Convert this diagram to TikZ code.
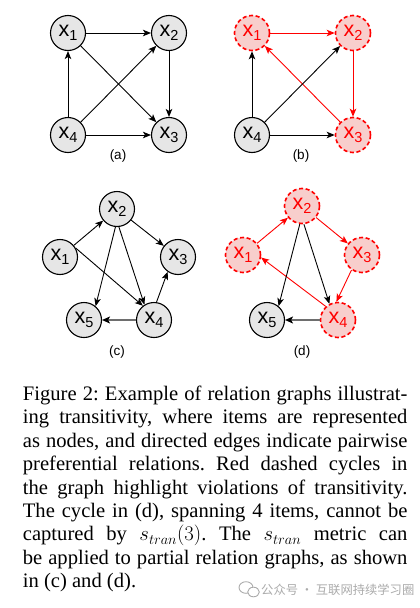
\documentclass[tikz,border=0pt]{standalone}
\usepackage{fontspec}
\setmainfont{Liberation Serif}
\newfontfamily\nodefont{Liberation Sans}
\newfontfamily\cjkfont{Noto Sans CJK SC}
\usetikzlibrary{arrows.meta}
\definecolor{nodegray}{HTML}{E6E6E6}
\definecolor{nodepink}{HTML}{F8CECC}
\definecolor{edgegray}{HTML}{6E6E6E}
\definecolor{wmgray}{HTML}{ABABAB}
\newcommand\xlab[1]{x\raisebox{-4.5pt}{\fontsize{14.5}{14.5}\selectfont #1}}
\tikzset{
  gnode/.style={circle, draw=black, line width=1.1pt, fill=nodegray, minimum size=35pt, inner sep=0pt,
    font=\nodefont\fontsize{21.5}{21.5}\selectfont},
  rnode/.style={circle, draw=red, line width=1.6pt, dash pattern=on 4pt off 2.6pt, fill=nodepink,
    minimum size=35pt, inner sep=0pt, text=red, font=\nodefont\fontsize{21.5}{21.5}\selectfont},
  edge/.style={draw=black, line width=0.9pt, -{Stealth[length=8pt,width=6.5pt,inset=2pt]}},
  redge/.style={draw=red, line width=0.9pt, -{Stealth[length=8pt,width=6.5pt,inset=2pt]}},
  gedge/.style={draw=edgegray, line width=1.6pt, -{Stealth[length=8pt,width=7pt,inset=2pt,color=black]}},
  sublabel/.style={font=\nodefont\fontsize{13.5}{13.5}\selectfont, inner sep=0pt},
  capline/.style={anchor=base west, inner sep=0pt, font=\fontsize{20.6}{23.4}\selectfont\frenchspacing},
  wm/.style={anchor=base west, inner sep=0pt, text=wmgray, font=\cjkfont\fontsize{12.3}{12.3}\selectfont}
}
\begin{document}
\begin{tikzpicture}[x=1pt,y=-1pt]
\useasboundingbox[fill=white] (0,0) rectangle (420,608);
% (a)
\node[gnode] (a1) at (68,33) {\xlab{1}};
\node[gnode] (a2) at (169,33) {\xlab{2}};
\node[gnode] (a3) at (169,135) {\xlab{3}};
\node[gnode] (a4) at (68,135) {\xlab{4}};
\draw[edge] (a1) -- (a2);
\draw[edge] (a1) -- (a3);
\draw[edge] (a2) -- (a3);
\draw[edge] (a4) -- (a1);
\draw[edge] (a4) -- (a2);
\draw[edge] (a4) -- (a3);
\node[sublabel] (la) at (118,156) {(a)};
% (b)
\node[rnode] (b1) at (252,33) {\xlab{1}};
\node[rnode] (b2) at (353,33) {\xlab{2}};
\node[rnode] (b3) at (353,135) {\xlab{3}};
\node[gnode] (b4) at (252,135) {\xlab{4}};
\draw[redge] (b1) -- (b2);
\draw[redge] (b2) -- (b3);
\draw[redge] (b3) -- (b1);
\draw[edge] (b4) -- (b1);
\draw[edge] (b4) -- (b2);
\draw[edge] (b4) -- (b3);
\node[sublabel] (lb) at (301,156) {(b)};
% (c)
\node[gnode] (c1) at (60,257) {\xlab{1}};
\node[gnode] (c2) at (117,209) {\xlab{2}};
\node[gnode] (c3) at (178,257) {\xlab{3}};
\node[gnode] (c4) at (154,320) {\xlab{4}};
\node[gnode] (c5) at (84,320) {\xlab{5}};
\draw[edge] (c1) -- (c2);
\draw[edge] (c1.30) -- (c4.128);
\draw[edge] (c2) -- (c3);
\draw[edge] (c2.-95) -- (c5.50);
\draw[edge] (c2.-84) -- (c4.122);
\draw[edge] (c4.82) -- (c3.235);
\draw[gedge] (c4) -- (c5);
\node[sublabel] (lc) at (117,352) {(c)};
% (d)
\node[rnode] (d1) at (243,255) {\xlab{1}};
\node[rnode] (d2) at (302,206) {\xlab{2}};
\node[rnode] (d3) at (362,255) {\xlab{3}};
\node[rnode] (d4) at (338,320) {\xlab{4}};
\node[gnode] (d5) at (267,320) {\xlab{5}};
\draw[redge] (d1) -- (d2);
\draw[redge] (d2) -- (d3);
\draw[redge] (d3.235) -- (d4.95);
\draw[redge] (d4.132) -- (d1.-8);
\draw[edge] (d2.-97) -- (d5.50);
\draw[edge] (d2.-84) -- (d4.118);
\draw[gedge] (d4) -- (d5);
\node[sublabel] (ld) at (302,352) {(d)};
% caption
\node[capline] (l1) at (22.7,400.5) {\makebox[384.6pt][s]{Figure 2: Example of relation graphs illustrat-}};
\node[capline] (l2) at (22.7,423.9) {\makebox[384.6pt][s]{ing transitivity, where items are represented}};
\node[capline] (l3) at (22.7,447.3) {\makebox[384.6pt][s]{as nodes, and directed edges indicate pairwise}};
\node[capline] (l4) at (22.7,470.7) {\makebox[384.6pt][s]{preferential relations. Red dashed cycles in}};
\node[capline] (l5) at (22.7,494.1) {\makebox[384.6pt][s]{the graph highlight violations of transitivity.}};
\node[capline] (l6) at (22.7,517.5) {\makebox[384.6pt][s]{The cycle in (d), spanning 4 items, cannot be}};
\node[capline] (l7) at (22.7,540.9) {\makebox[384.6pt][s]{captured by $s_{tran}(3)$. The $s_{tran}$ metric can}};
\node[capline] (l8) at (22.7,564.3) {\makebox[384.6pt][s]{be applied to partial relation graphs, as shown}};
\node[capline] (l9) at (22.7,587.7) {in (c) and (d).};
% watermark
\draw[wmgray, line width=0.9pt, fill=white] (246,587.5) ellipse [x radius=7, y radius=5.8];
\draw[wmgray, line width=0.9pt, fill=white] (253.5,592) ellipse [x radius=5.8, y radius=4.8];
\node[wm] (wmtext) at (261,594.5) {公众号 · 互联网持续学习圈};
\end{tikzpicture}
\end{document}
